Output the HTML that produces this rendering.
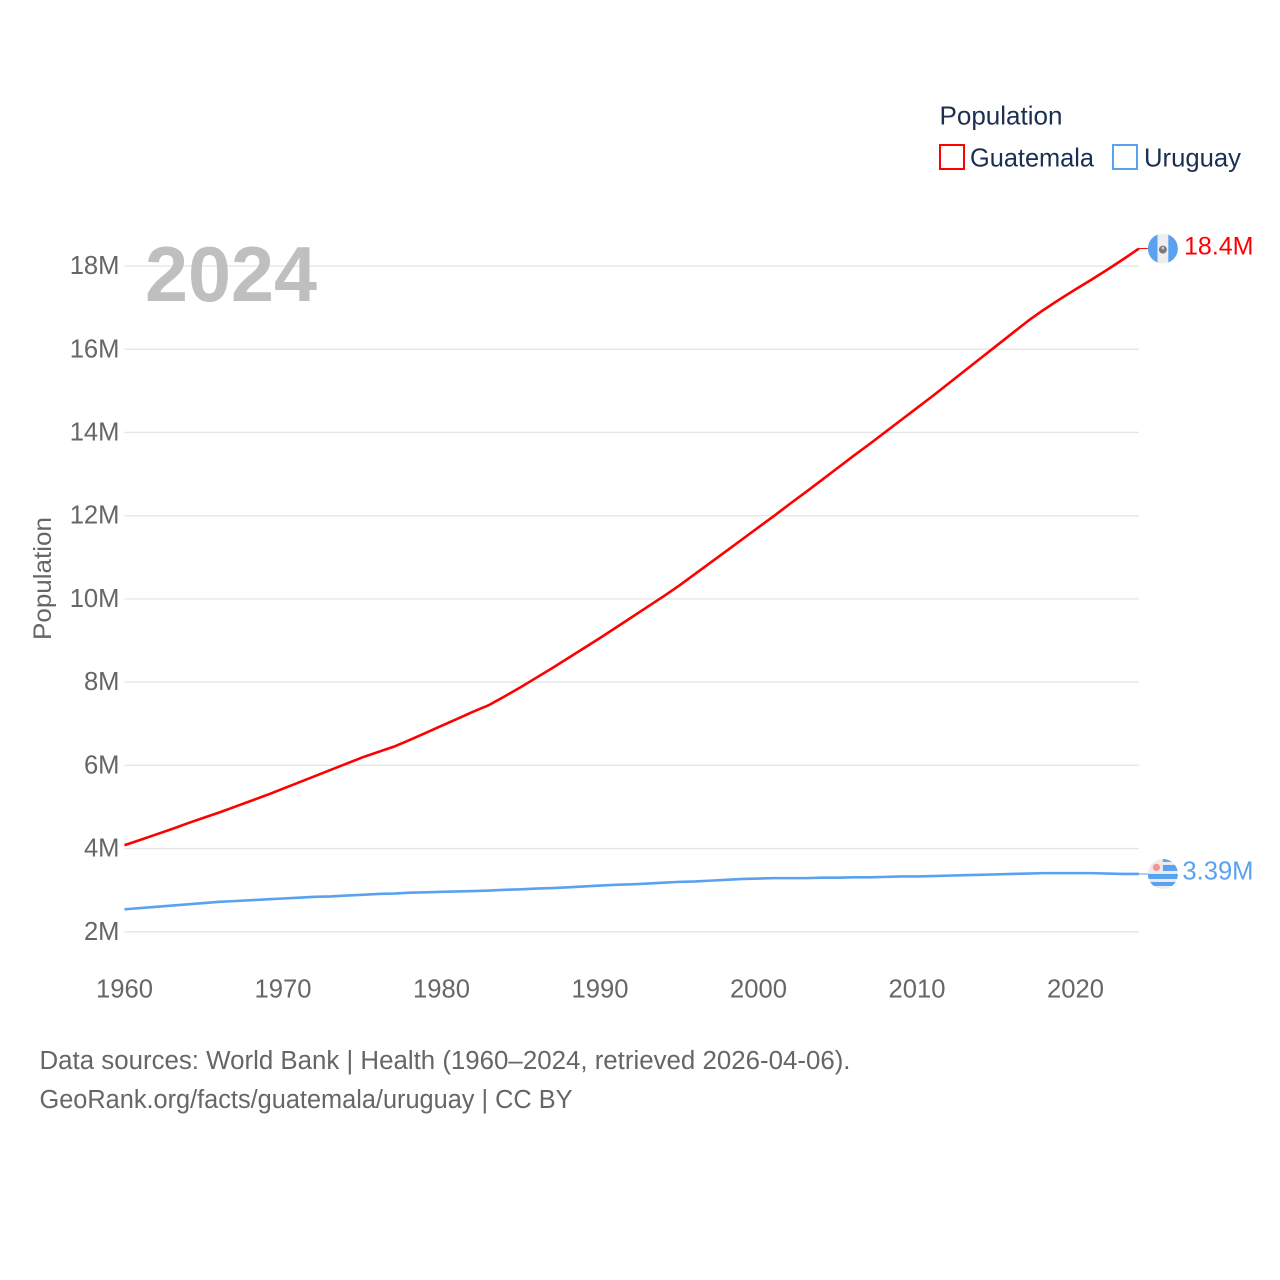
<!DOCTYPE html>
<html lang="en">
<head>
<meta charset="utf-8">
<title>Population: Guatemala and Uruguay</title>
<style>
  html, body { margin: 0; padding: 0; background: #fff; }
  svg { display: block; font-family: "Liberation Sans", sans-serif; }
</style>
</head>
<body>
<svg id="chart" xmlns="http://www.w3.org/2000/svg" width="1280" height="1280" viewBox="0 0 1280 1280">
  <rect x="0" y="0" width="1280" height="1280" fill="#ffffff"/>
  <g id="grid"></g>
  <g id="yticks"></g>
  <g id="xticks"></g>
  <text x="145" y="301" font-size="78" font-weight="700" fill="#b8b8b8" fill-opacity="0.9" textLength="172" lengthAdjust="spacingAndGlyphs">2024</text>
  <text transform="translate(51 640) rotate(-90)" font-size="25" fill="#666666" textLength="123" lengthAdjust="spacingAndGlyphs">Population</text>

  <g>
    <text x="939.5" y="124.5" font-size="26" fill="#1b3050" textLength="123" lengthAdjust="spacingAndGlyphs">Population</text>
    <rect x="940" y="145" width="24" height="24" fill="none" stroke="#ff0000" stroke-width="2"/>
    <text x="970" y="166.5" font-size="26" fill="#1b3050" textLength="124" lengthAdjust="spacingAndGlyphs">Guatemala</text>
    <rect x="1113" y="145" width="24" height="24" fill="none" stroke="#5aa2f0" stroke-width="2"/>
    <text x="1144" y="166.5" font-size="26" fill="#1b3050" textLength="97" lengthAdjust="spacingAndGlyphs">Uruguay</text>
  </g>

  <g id="series"></g>

  <defs>
    <clipPath id="clip-gt"><circle cx="0" cy="0" r="15"/></clipPath>
    <clipPath id="clip-uy"><circle cx="0" cy="0" r="15"/></clipPath>
  </defs>
  <g id="flag-gt">
    <g clip-path="url(#clip-gt)">
      <rect x="-15" y="-15" width="30" height="30" fill="#eeeeee"/>
      <rect x="-15" y="-15" width="9.6" height="30" fill="#5aa2f0"/>
      <rect x="5.4" y="-15" width="9.6" height="30" fill="#5aa2f0"/>
      <circle cx="0" cy="1" r="4" fill="#7a7a7a"/>
      <circle cx="0" cy="-0.5" r="1.4" fill="#c8c8c8"/>
    </g>
  </g>
  <g id="flag-uy">
    <g clip-path="url(#clip-uy)">
      <rect x="-15" y="-15" width="30" height="30" fill="#ececec"/>
      <rect x="0" y="-15" width="15" height="3" fill="#5aa2f0"/>
      <rect x="0" y="-9" width="15" height="6" fill="#5aa2f0"/>
      <rect x="-15" y="0" width="30" height="5" fill="#5aa2f0"/>
      <rect x="-15" y="8" width="30" height="4" fill="#5aa2f0"/>
      <circle cx="-6.5" cy="-6.5" r="3.6" fill="#ff8f8f"/>
    </g>
  </g>
  <g id="end-labels"></g>

  <g>
    <text x="39.5" y="1069" font-size="25.5" fill="#666666" textLength="811" lengthAdjust="spacingAndGlyphs">Data sources: World Bank | Health (1960–2024, retrieved 2026-04-06).</text>
    <text x="39.5" y="1108" font-size="25.5" fill="#666666" textLength="533" lengthAdjust="spacingAndGlyphs">GeoRank.org/facts/guatemala/uruguay | CC BY</text>
  </g>
</svg>

<script>
const years = [1960,1961,1962,1963,1964,1965,1966,1967,1968,1969,1970,1971,1972,1973,1974,1975,1976,1977,1978,1979,1980,1981,1982,1983,1984,1985,1986,1987,1988,1989,1990,1991,1992,1993,1994,1995,1996,1997,1998,1999,2000,2001,2002,2003,2004,2005,2006,2007,2008,2009,2010,2011,2012,2013,2014,2015,2016,2017,2018,2019,2020,2021,2022,2023,2024];
const guatemala = [4.08,4.21,4.34,4.47,4.61,4.74,4.87,5.01,5.15,5.29,5.44,5.59,5.74,5.89,6.04,6.19,6.32,6.45,6.61,6.78,6.95,7.12,7.29,7.45,7.66,7.88,8.11,8.34,8.58,8.82,9.06,9.31,9.56,9.81,10.06,10.32,10.60,10.88,11.16,11.44,11.72,12.00,12.29,12.57,12.86,13.15,13.44,13.72,14.01,14.30,14.59,14.88,15.18,15.48,15.78,16.08,16.38,16.68,16.95,17.20,17.44,17.67,17.91,18.16,18.42];
const uruguay = [2.54,2.57,2.60,2.63,2.66,2.69,2.72,2.74,2.76,2.78,2.80,2.82,2.84,2.85,2.87,2.89,2.91,2.92,2.94,2.95,2.96,2.97,2.98,2.99,3.01,3.02,3.04,3.05,3.07,3.09,3.11,3.13,3.14,3.16,3.18,3.20,3.21,3.23,3.25,3.27,3.28,3.29,3.29,3.29,3.30,3.30,3.31,3.31,3.32,3.33,3.33,3.34,3.35,3.36,3.37,3.38,3.39,3.40,3.41,3.41,3.41,3.41,3.40,3.39,3.39];
const yTickValues = [2,4,6,8,10,12,14,16,18];
const yTickLabels = ["2M","4M","6M","8M","10M","12M","14M","16M","18M"];
const xTickValues = [1960,1970,1980,1990,2000,2010,2020];
const xTickLabels = ["1960","1970","1980","1990","2000","2010","2020"];

const SVG_NS = "http://www.w3.org/2000/svg";
function xScale(year) { return 124.5 + (year - 1960) * 15.85; }
function yScale(millions) { return 931.8 - (millions - 2) * 41.61; }
function make(tag, parent) {
  const el = document.createElementNS(SVG_NS, tag);
  parent.appendChild(el);
  return el;
}
function formatEnd(v) {
  return v >= 10 ? v.toFixed(1) + "M" : v.toFixed(2) + "M";
}

const gridGroup = document.getElementById("grid");
const yTickGroup = document.getElementById("yticks");
yTickValues.forEach(function (v, i) {
  const line = make("line", gridGroup);
  
  
  line.setAttribute("x1", xScale(1960));
  line.setAttribute("x2", xScale(2024));
  line.setAttribute("y1", yScale(v));
  line.setAttribute("y2", yScale(v));
  line.setAttribute("stroke", "#e6e6e6");
  line.setAttribute("stroke-width", "1.4");

  const t = make("text", yTickGroup);
  
  
  t.setAttribute("x", 119.5);
  t.setAttribute("y", yScale(v) + 8);
  t.setAttribute("text-anchor", "end");
  t.setAttribute("font-size", "25.6");
  t.setAttribute("fill", "#666666");
  t.textContent = yTickLabels[i];
});

const xTickGroup = document.getElementById("xticks");
xTickValues.forEach(function (v, i) {
  const t = make("text", xTickGroup);
  
  
  t.setAttribute("x", xScale(v));
  t.setAttribute("y", 997.5);
  t.setAttribute("text-anchor", "middle");
  t.setAttribute("font-size", "25.6");
  t.setAttribute("fill", "#666666");
  t.textContent = xTickLabels[i];
});

function pathFor(values) {
  return values.map(function (v, i) {
    return (i ? "L" : "M") + xScale(years[i]).toFixed(2) + " " + yScale(v).toFixed(2);
  }).join(" ");
}

const seriesGroup = document.getElementById("series");

const lineGt = make("path", seriesGroup);


lineGt.setAttribute("d", pathFor(guatemala));
lineGt.setAttribute("fill", "none");
lineGt.setAttribute("stroke", "#ff0000");
lineGt.setAttribute("stroke-width", "2.6");
lineGt.setAttribute("stroke-linejoin", "round");

const lineUy = make("path", seriesGroup);


lineUy.setAttribute("d", pathFor(uruguay));
lineUy.setAttribute("fill", "none");
lineUy.setAttribute("stroke", "#5aa2f0");
lineUy.setAttribute("stroke-width", "2.6");
lineUy.setAttribute("stroke-linejoin", "round");

const lastYear = years[years.length - 1];
const lastGt = guatemala[guatemala.length - 1];
const lastUy = uruguay[uruguay.length - 1];
const flagX = xScale(lastYear) + 24;

const connGt = make("line", seriesGroup);


connGt.setAttribute("x1", xScale(lastYear));
connGt.setAttribute("x2", flagX - 15);
connGt.setAttribute("y1", yScale(lastGt));
connGt.setAttribute("y2", yScale(lastGt));
connGt.setAttribute("stroke", "#ff0000");
connGt.setAttribute("stroke-width", "1");

const connUy = make("line", seriesGroup);


connUy.setAttribute("x1", xScale(lastYear));
connUy.setAttribute("x2", flagX - 15);
connUy.setAttribute("y1", yScale(lastUy));
connUy.setAttribute("y2", yScale(lastUy));
connUy.setAttribute("stroke", "#5aa2f0");
connUy.setAttribute("stroke-width", "1");

function placeFlag(groupId, cy) {
  document.getElementById(groupId).setAttribute("transform", "translate(" + flagX + " " + cy + ")");
}
placeFlag("flag-gt", yScale(lastGt));
placeFlag("flag-uy", yScale(lastUy));

const endGroup = document.getElementById("end-labels");

const endGt = make("text", endGroup);


endGt.setAttribute("x", 1253.5);
endGt.setAttribute("y", yScale(lastGt) + 5.8);
endGt.setAttribute("text-anchor", "end");
endGt.setAttribute("font-size", "25");
endGt.setAttribute("fill", "#ff0000");
endGt.textContent = formatEnd(lastGt);

const endUy = make("text", endGroup);


endUy.setAttribute("x", 1253.5);
endUy.setAttribute("y", yScale(lastUy) + 5.6);
endUy.setAttribute("text-anchor", "end");
endUy.setAttribute("font-size", "25.6");
endUy.setAttribute("fill", "#5aa2f0");
endUy.textContent = formatEnd(lastUy);
</script>
</body>
</html>
